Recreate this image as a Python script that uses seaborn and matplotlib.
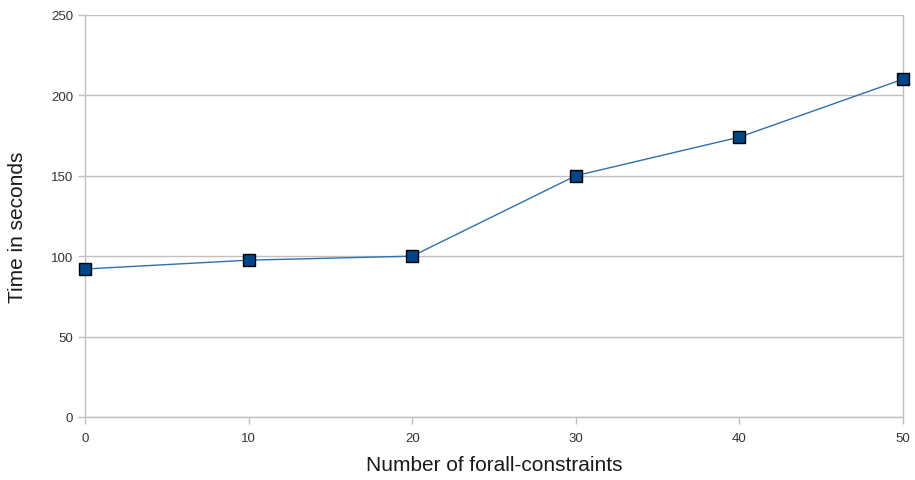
import matplotlib
matplotlib.use("Agg")
import matplotlib.pyplot as plt
import seaborn as sns
import pandas as pd

# data
constraints = [0, 10, 20, 30, 40, 50]
seconds = [92, 97.5, 100, 150, 174, 210]
y_ticks = [0, 50, 100, 150, 200, 250]

df = pd.DataFrame({"constraints": constraints, "seconds": seconds})

sns.set_style("white")
plt.rcParams['font.family'] = ['Liberation Sans', 'DejaVu Sans']

grid_col = "#c0c0c0"

fig = plt.figure(figsize=(9.15, 4.81), dpi=100)
ax = fig.add_axes([0.0929, 0.131, 0.8940, 0.836])

sns.lineplot(data=df, x="constraints", y="seconds", ax=ax,
             color="#2f70ae", linewidth=1.0, marker="s", markersize=8.5,
             markerfacecolor="#004586", markeredgecolor="black",
             markeredgewidth=1.0, clip_on=False, zorder=5)

ax.set_xlim(0, 50)
ax.set_ylim(0, 250)
ax.set_xticks(constraints)
ax.set_yticks(y_ticks)
ax.yaxis.grid(True, color=grid_col, linewidth=1.0)
ax.set_axisbelow(True)

for side in ["left", "right", "bottom", "top"]:
    ax.spines[side].set_color(grid_col)
    ax.spines[side].set_linewidth(1.0)
ax.spines["top"].set_visible(False)

ax.tick_params(axis="both", which="major", direction="out", length=5,
               width=1.0, color=grid_col, labelsize=9.5, labelcolor="#333333",
               left=True, bottom=True)
ax.tick_params(axis="x", pad=6)

ax.set_xlabel("Number of forall-constraints", fontsize=15, color="#1a1a1a", labelpad=8)
ax.set_ylabel("Time in seconds", fontsize=15, color="#1a1a1a")
ax.yaxis.set_label_coords(-0.071, 0.473)

fig.savefig("out.png", dpi=100)
